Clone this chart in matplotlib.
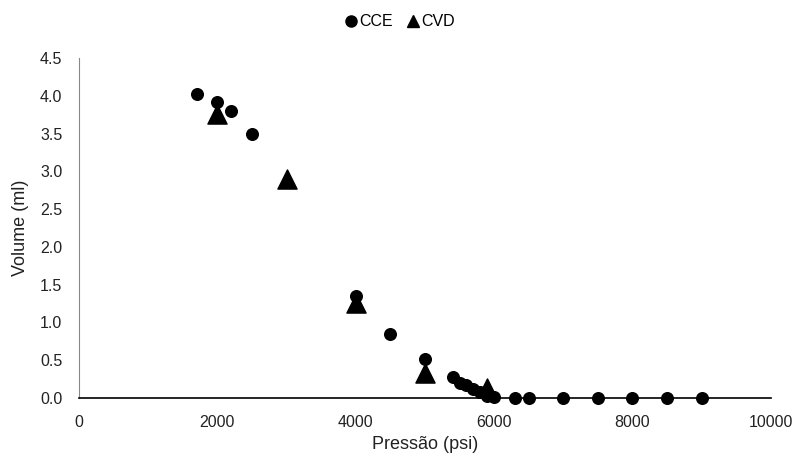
import matplotlib
matplotlib.use("Agg")
import matplotlib.pyplot as plt
from matplotlib.lines import Line2D

plt.rcParams['font.family'] = ['Liberation Sans', 'DejaVu Sans']

cce_p = [1700, 2000, 2200, 2500, 4000, 4500, 5000, 5400, 5500, 5600, 5700, 5800, 5900, 6000, 6300, 6500, 7000, 7500, 8000, 8500, 9000]
cce_v = [4.03, 3.92, 3.80, 3.49, 1.35, 0.84, 0.51, 0.27, 0.20, 0.17, 0.12, 0.08, 0.03, 0.01, 0.0, 0.0, 0.0, 0.0, 0.0, 0.0, 0.0]
cvd_p = [2000, 3000, 4000, 5000, 5900]
cvd_v = [3.76, 2.90, 1.25, 0.33, 0.13]
x_ticks = [0, 2000, 4000, 6000, 8000, 10000]
y_ticks = [0.0, 0.5, 1.0, 1.5, 2.0, 2.5, 3.0, 3.5, 4.0, 4.5]

fig = plt.figure(figsize=(7.98, 4.61), dpi=100)
ax = fig.add_axes([0.099, 0.137, 0.867, 0.737])

ax.scatter(cce_p, cce_v, s=70, marker='o', color='black', zorder=3, clip_on=False)
ax.scatter(cvd_p, cvd_v, s=190, marker='^', color='black', zorder=3, clip_on=False)

ax.set_xlim(0, 10000)
ax.set_ylim(0, 4.5)
ax.set_xticks(x_ticks)
ax.set_yticks(y_ticks)
ax.set_xticklabels([str(t) for t in x_ticks])
ax.set_yticklabels([f"{t:.1f}" for t in y_ticks])
ax.tick_params(axis='x', length=0, labelsize=11.5, colors='#222222', pad=12)
ax.tick_params(axis='y', length=0, labelsize=11.5, colors='#222222', pad=12)
for s in ['top', 'right']:
    ax.spines[s].set_visible(False)
ax.spines['left'].set_color('#888888')
ax.spines['bottom'].set_color('black')
ax.spines['bottom'].set_linewidth(1.2)

ax.set_xlabel('Pressão (psi)', fontsize=13, color='#222222', labelpad=5)
ax.set_ylabel('Volume (ml)', fontsize=13, color='#222222', labelpad=8)

handles = [Line2D([], [], marker='o', color='black', linestyle='none', markersize=8),
           Line2D([], [], marker='^', color='black', linestyle='none', markersize=8)]
fig.legend(handles, ['CCE', 'CVD'], loc='upper center', bbox_to_anchor=(0.5, 1.0),
           ncol=2, frameon=False, fontsize=11.5, handletextpad=0.0, columnspacing=0.8,
           handlelength=1.0)

fig.savefig('out.png', dpi=100)
